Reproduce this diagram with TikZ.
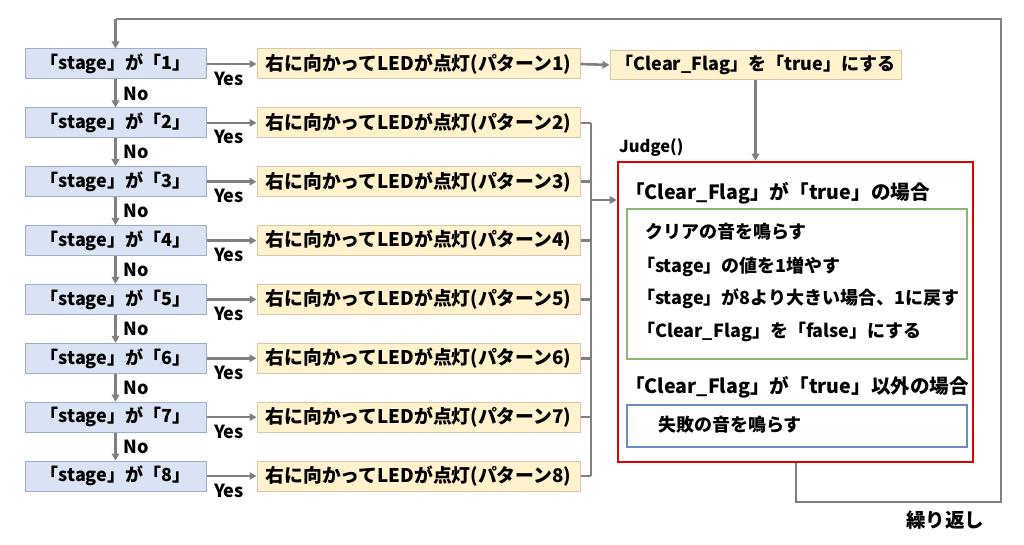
\documentclass[tikz,border=0pt]{standalone}
\usepackage{fontspec}
\setmainfont{Noto Sans CJK JP}
\usetikzlibrary{arrows.meta}
\definecolor{bfill}{HTML}{DAE3F3}
\definecolor{bdraw}{HTML}{9DAFC6}
\definecolor{ofill}{HTML}{FFF2CC}
\definecolor{odraw}{HTML}{D3C9A8}
\definecolor{lgray}{HTML}{808080}
\definecolor{rbox}{HTML}{E00000}
\definecolor{gbox}{HTML}{8DB870}
\definecolor{blbox}{HTML}{6A8CC7}
\begin{document}
\begin{tikzpicture}[x=1pt,y=-1pt,
  every node/.style={font=\bfseries\fontsize{18}{20}\selectfont, inner sep=0pt},
  bbox/.style={draw=bdraw, fill=bfill, line width=1pt, minimum width=181pt, minimum height=30pt},
  obox/.style={draw=odraw, fill=ofill, line width=1pt, minimum width=323pt, minimum height=30pt, font=\bfseries\fontsize{18.8}{20}\selectfont},
  conn/.style={draw=lgray, line width=2.6pt},
  arr/.style={conn, -{Triangle[length=7pt,width=7.5pt]}},
  lbl/.style={font=\bfseries\fontsize{18}{20}\selectfont},
  inner/.style={anchor=west, font=\bfseries\fontsize{18}{20}\selectfont},
  head/.style={anchor=west, font=\bfseries\fontsize{19.6}{22}\selectfont}]
\useasboundingbox (0,0) rectangle (1024,545);
\fill[white] (0,0) rectangle (1024,545);
\foreach \i in {1,...,8} {
  \pgfmathsetmacro{\yc}{64+(\i-1)*58.86}
  \node[bbox] (b\i) at (115.5,\yc) {「stage」が「\i」};
  \node[obox] (o\i) at (418.5,\yc) {右に向かってLEDが点灯(パターン\i)};
  \draw[arr] (b\i.east) -- (o\i.west);
  \node[lbl] (y\i) at (229,\yc+14.5) {Yes};
}
\foreach \i/\j in {1/2,2/3,3/4,4/5,5/6,6/7,7/8} {
  \draw[arr] (b\i.south) -- (b\j.north) node[lbl, midway, right=7pt] (n\i) {No};
}
\node[draw=odraw, fill=ofill, line width=1pt, minimum width=291pt, minimum height=29pt] (cf) at (755.5,65) {「Clear\_Flag」を「true」にする};
\draw[arr] (o1.east) -- (cf.west);
\node[draw=rbox, line width=2.6pt, minimum width=355pt, minimum height=300pt] (judge) at (795.5,312) {};
\node[anchor=west, font=\bfseries\fontsize{16.5}{18}\selectfont] (jt) at (619,148) {Judge()};
\draw[arr] (cf.south) -- (cf.south |- judge.north);
\coordinate (bus) at (591,200);
\foreach \i in {2,...,8} {
  \draw[conn] (o\i.east) -- (o\i.east -| bus);
}
\draw[conn] (o2.east -| bus) -- (o8.east -| bus);
\draw[arr] (bus) -- (bus -| judge.west);
\node[head] (h1) at (625,193) {「Clear\_Flag」が「true」の場合};
\node[draw=gbox, line width=1.2pt, minimum width=340pt, minimum height=150pt] (gb) at (797,284) {};
\node[inner] (t1) at (645,232) {クリアの音を鳴らす};
\node[inner] (t2) at (637,267) {「stage」の値を1増やす};
\node[inner] (t3) at (637,299) {「stage」が8より大きい場合、1に戻す};
\node[inner] (t4) at (637,332) {「Clear\_Flag」を「false」にする};
\node[head] (h2) at (625,387) {「Clear\_Flag」が「true」以外の場合};
\node[draw=blbox, line width=1.2pt, minimum width=340pt, minimum height=42pt] (fb) at (797,426) {};
\node[inner] (t5) at (658,425) {失敗の音を鳴らす};
\coordinate (c1) at (796,502);
\coordinate (c2) at (1001,502);
\coordinate (c3) at (1001,19);
\coordinate (c4) at (115.5,19);
\draw[conn] (judge.south -| c1) -- (c1) -- (c2) -- (c3) -- (c4);
\draw[arr] (c4) -- (b1.north);
\node[font=\bfseries\fontsize{19.5}{21}\selectfont] (rep) at (945,520) {繰り返し};
\end{tikzpicture}
\end{document}
